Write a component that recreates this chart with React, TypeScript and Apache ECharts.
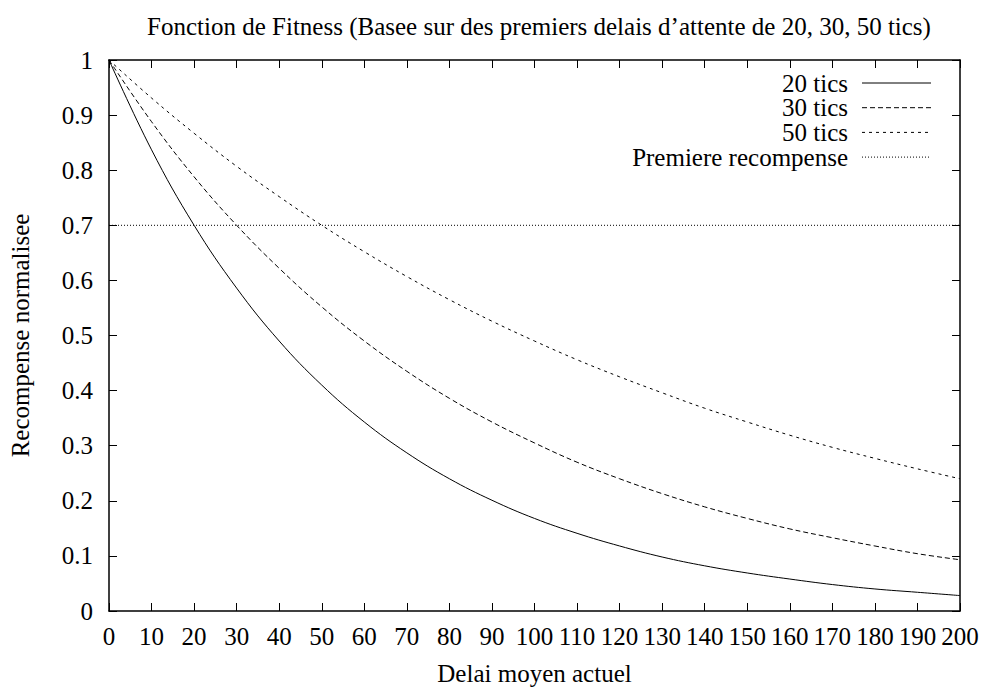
import React, { useEffect, useRef } from "react";
import * as echarts from "echarts";

const xValues = [0, 10, 20, 30, 40, 50, 60, 70, 80, 90, 100, 110, 120, 130, 140, 150, 160, 170, 180, 190, 200];
const tics20 = [1, 0.837, 0.7, 0.586, 0.49, 0.41, 0.343, 0.287, 0.24, 0.201, 0.168, 0.141, 0.118, 0.098, 0.082, 0.069, 0.058, 0.048, 0.04, 0.034, 0.028];
const tics30 = [1, 0.888, 0.788, 0.7, 0.622, 0.552, 0.49, 0.435, 0.386, 0.343, 0.305, 0.27, 0.24, 0.213, 0.189, 0.168, 0.149, 0.133, 0.118, 0.104, 0.093];
const tics50 = [1, 0.931, 0.867, 0.807, 0.752, 0.7, 0.652, 0.607, 0.565, 0.526, 0.49, 0.456, 0.425, 0.396, 0.368, 0.343, 0.319, 0.297, 0.277, 0.258, 0.24];
const premiereX = [0, 200];
const premiereY = [0.7, 0.7];

const seriesNames = ["20 tics", "30 tics", "50 tics", "Premiere recompense"];
const titleText = "Fonction de Fitness (Basee sur des premiers delais d\u2019attente de 20, 30, 50 tics)";
const xName = "Delai moyen actuel";
const yName = "Recompense normalisee";

const FONT = "Liberation Serif";
const FS = 25;
const dashes: any[] = ["solid", [5, 3], [3, 4], [1, 2]];

export default function App() {
  const ref = useRef<HTMLDivElement>(null);
  useEffect(() => {
    if (!ref.current) return;
    const chart = echarts.init(ref.current, undefined, { renderer: "svg" });
    const pair = (xs: number[], ys: number[]) => xs.map((x, i) => [x, ys[i]]);
    const datasets = [pair(xValues, tics20), pair(xValues, tics30), pair(xValues, tics50), pair(premiereX, premiereY)];
    const legendRight = 848;
    const legendY0 = 83;
    const legendStep = 24.7;
    const legendGraphics: any[] = [];
    seriesNames.forEach((n, i) => {
      const y = legendY0 + i * legendStep;
      legendGraphics.push({
        type: "text",
        x: legendRight,
        y,
        style: { text: n, font: `${FS}px "${FONT}"`, fill: "#000", align: "right", verticalAlign: "middle" },
      });
      legendGraphics.push({
        type: "line",
        shape: { x1: 862, y1: y, x2: 931, y2: y },
        style: { stroke: "#000", lineWidth: 1, lineDash: dashes[i] === "solid" ? null : dashes[i] },
      });
    });
    const axisCommon = {
      type: "value",
      axisLine: { show: true, onZero: false, lineStyle: { color: "#000", width: 1.5 } },
      axisTick: { show: true, inside: true, length: 8, lineStyle: { color: "#000", width: 1 } },
      splitLine: { show: false },
    };
    const txt = { fontFamily: FONT, fontSize: FS, color: "#000" };
    chart.setOption({
      animation: false,
      backgroundColor: "#fff",
      title: {
        text: titleText,
        left: 534,
        top: 9,
        textAlign: "center",
        textStyle: { ...txt, fontWeight: "normal" },
      },
      grid: { left: 109, right: 23, top: 60, bottom: 77 },
      xAxis: [
        {
          ...axisCommon,
          min: 0,
          max: 200,
          interval: 10,
          position: "bottom",
          name: xName,
          nameLocation: "middle",
          nameGap: 50,
          nameTextStyle: txt,
          axisLabel: { ...txt, margin: 13 },
        },
        {
          ...axisCommon,
          min: 0,
          max: 200,
          interval: 10,
          position: "top",
          axisLabel: { show: false },
        },
      ],
      yAxis: [
        {
          ...axisCommon,
          min: 0,
          max: 1,
          interval: 0.1,
          position: "left",
          name: yName,
          nameLocation: "middle",
          nameGap: 76,
          nameTextStyle: txt,
          axisLabel: { ...txt, margin: 16 },
        },
        {
          ...axisCommon,
          min: 0,
          max: 1,
          interval: 0.1,
          position: "right",
          axisLabel: { show: false },
        },
      ],
      series: datasets.map((d, i) => ({
        type: "line",
        name: seriesNames[i],
        data: d,
        smooth: i < 3 ? 0.4 : false,
        showSymbol: false,
        symbol: "none",
        lineStyle: { color: "#000", width: 1, type: dashes[i] },
        z: 3,
      })),
      graphic: legendGraphics,
    });
    return () => chart.dispose();
  }, []);
  return <div ref={ref} style={{ width: 983, height: 691, position: "absolute", left: 0, top: 0 }} />;
}
